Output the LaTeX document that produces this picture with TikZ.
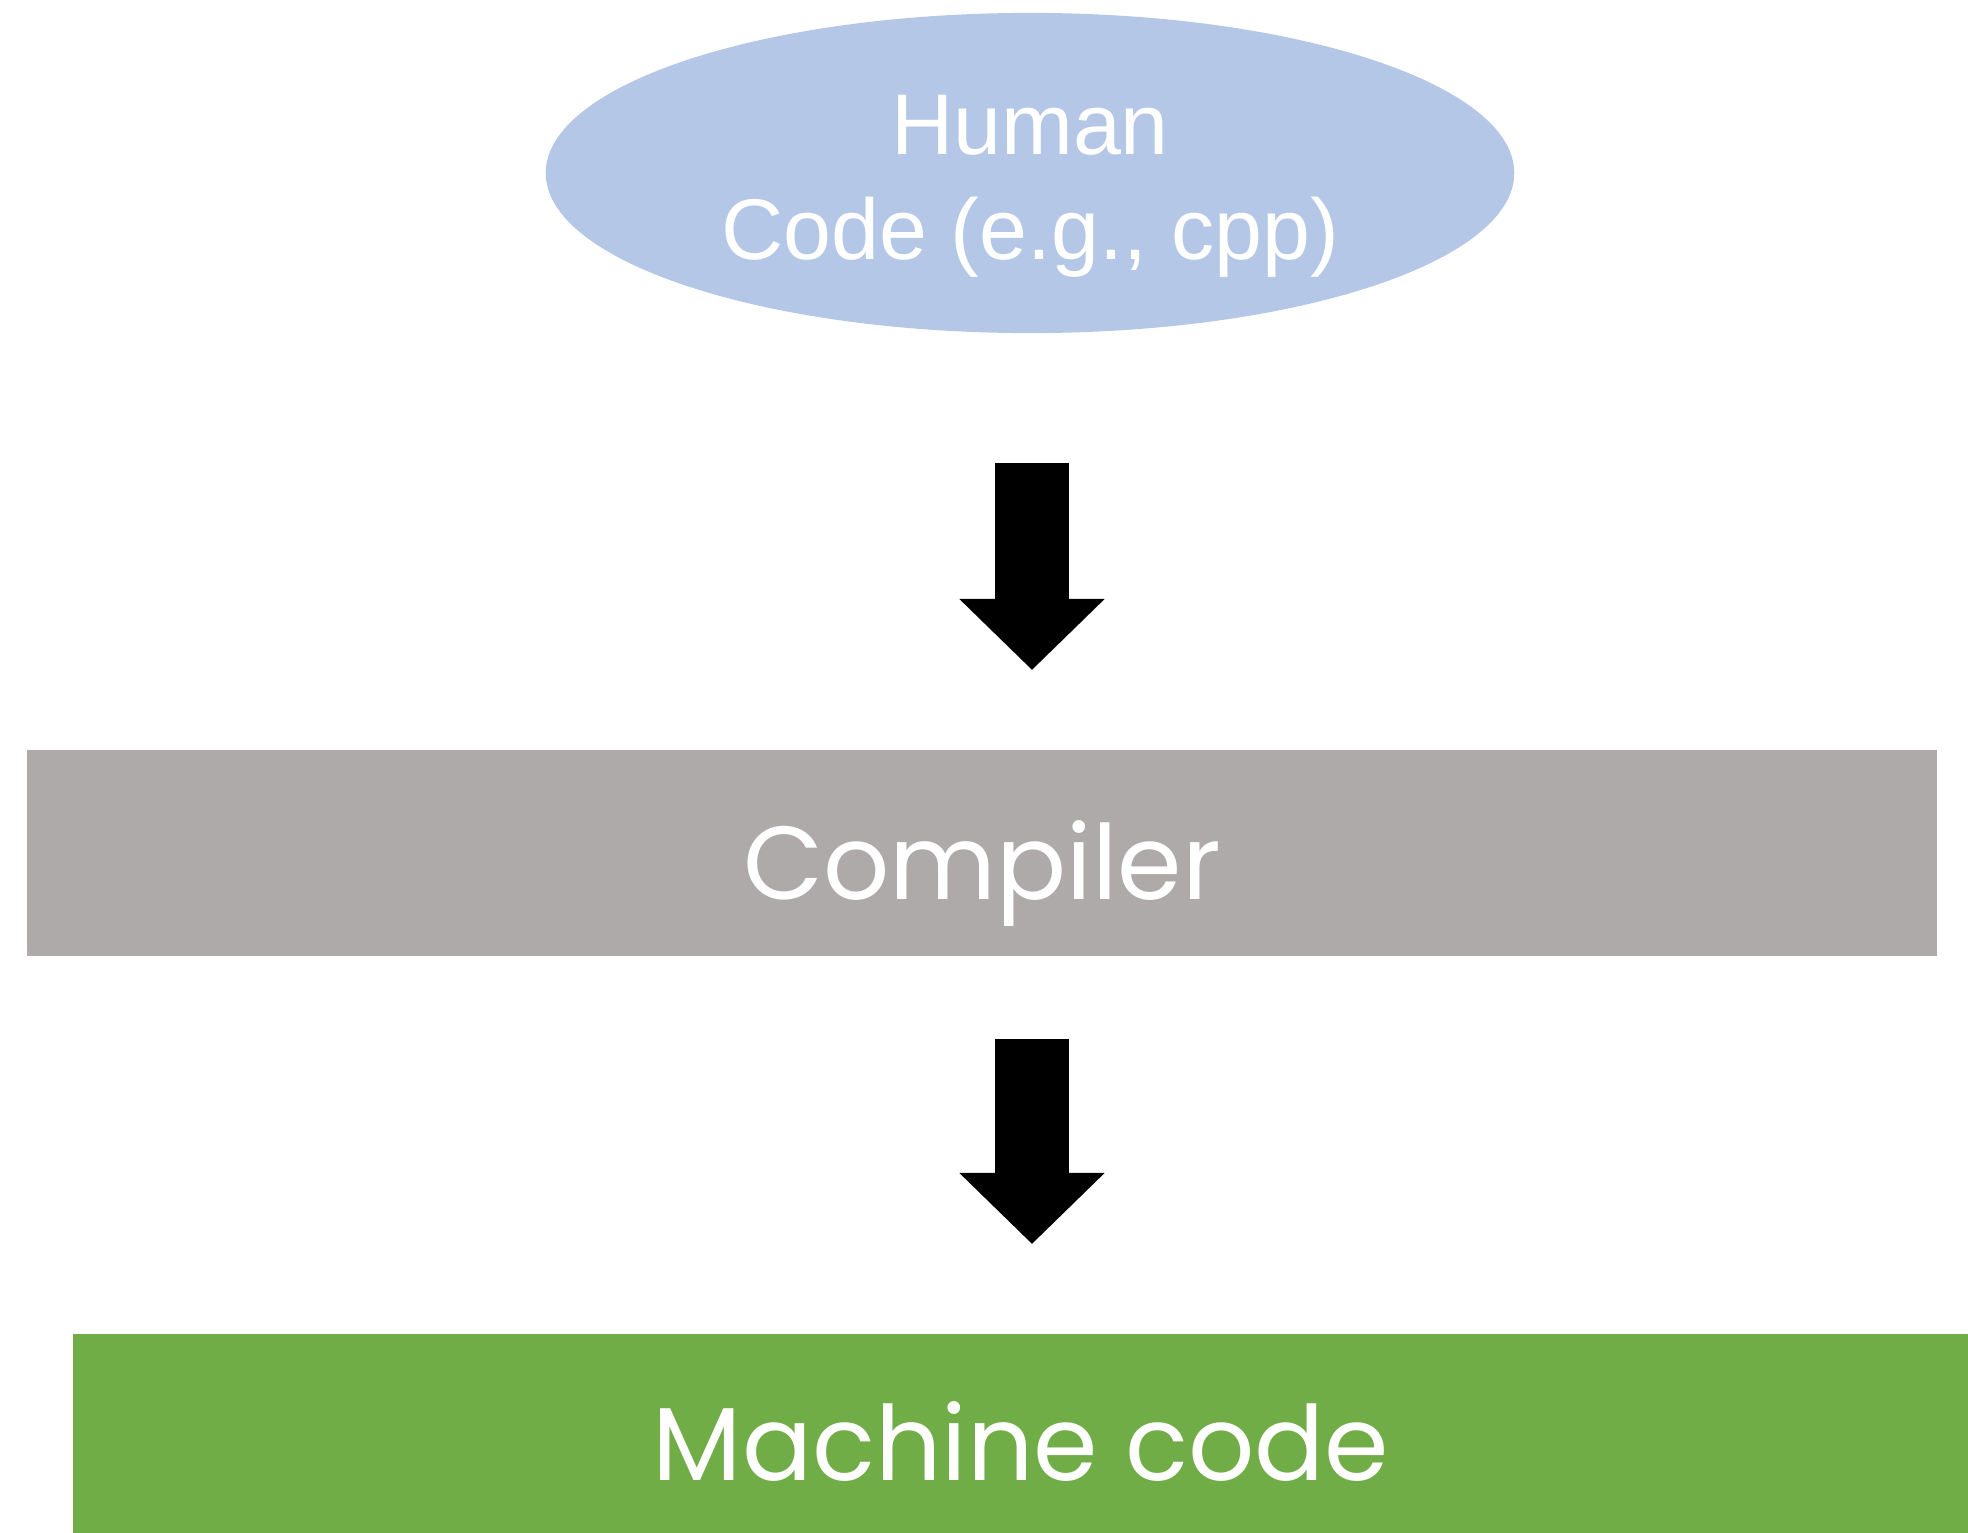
\documentclass[tikz,border=0pt]{standalone}
\usepackage{fontspec}
\setmainfont{Liberation Sans}
\newfontfamily\geofont{Poppins}
\usetikzlibrary{arrows.meta, positioning, shapes.geometric}
\definecolor{cbluel}{HTML}{B4C7E7}
\definecolor{cgreyl}{HTML}{AEAAAA}
\definecolor{cgreen}{HTML}{70AD47}
\tikzset{
  srcnode/.style={ellipse, fill=cbluel, minimum width=9.68cm, minimum height=3.2cm},
  srctext/.style={text=white, align=center, inner sep=0pt, font=\fontsize{24.5}{29.8}\selectfont},
  band/.style={rectangle, fill=#1, text=white, inner sep=0pt, text height=0.92cm, text depth=0pt,
    font=\geofont\fontsize{29.5}{36}\selectfont},
  blockarrow/.style={line width=0.73cm, -{Triangle[length=0.71cm, width=1.41cm]}},
}
\begin{document}
\begin{tikzpicture}[x=0.01cm, y=-0.01cm]
  \useasboundingbox (0,0) rectangle (1968,1533);
  \node[srcnode] (human) at (1030,173) {};
  \node[srctext] (humantext) at ([yshift=-0.13cm]human.center) {Human\\Code (e.g., cpp)};
  \node[band=cgreyl, minimum width=19.09cm, minimum height=2.05cm] (compiler) at (982,853) {Compiler};
  \node[band=cgreen, minimum width=18.94cm, minimum height=1.99cm] (machine) at (1021,1434) {Machine code};
  % block arrows between the stages
  \coordinate (a1top) at (1032,463);
  \coordinate (a1tip) at (1032,670);
  \coordinate (a2top) at (1032,1039);
  \coordinate (a2tip) at (1032,1244);
  \draw[blockarrow] (a1top) -- (a1tip);
  \draw[blockarrow] (a2top) -- (a2tip);
\end{tikzpicture}
\end{document}
